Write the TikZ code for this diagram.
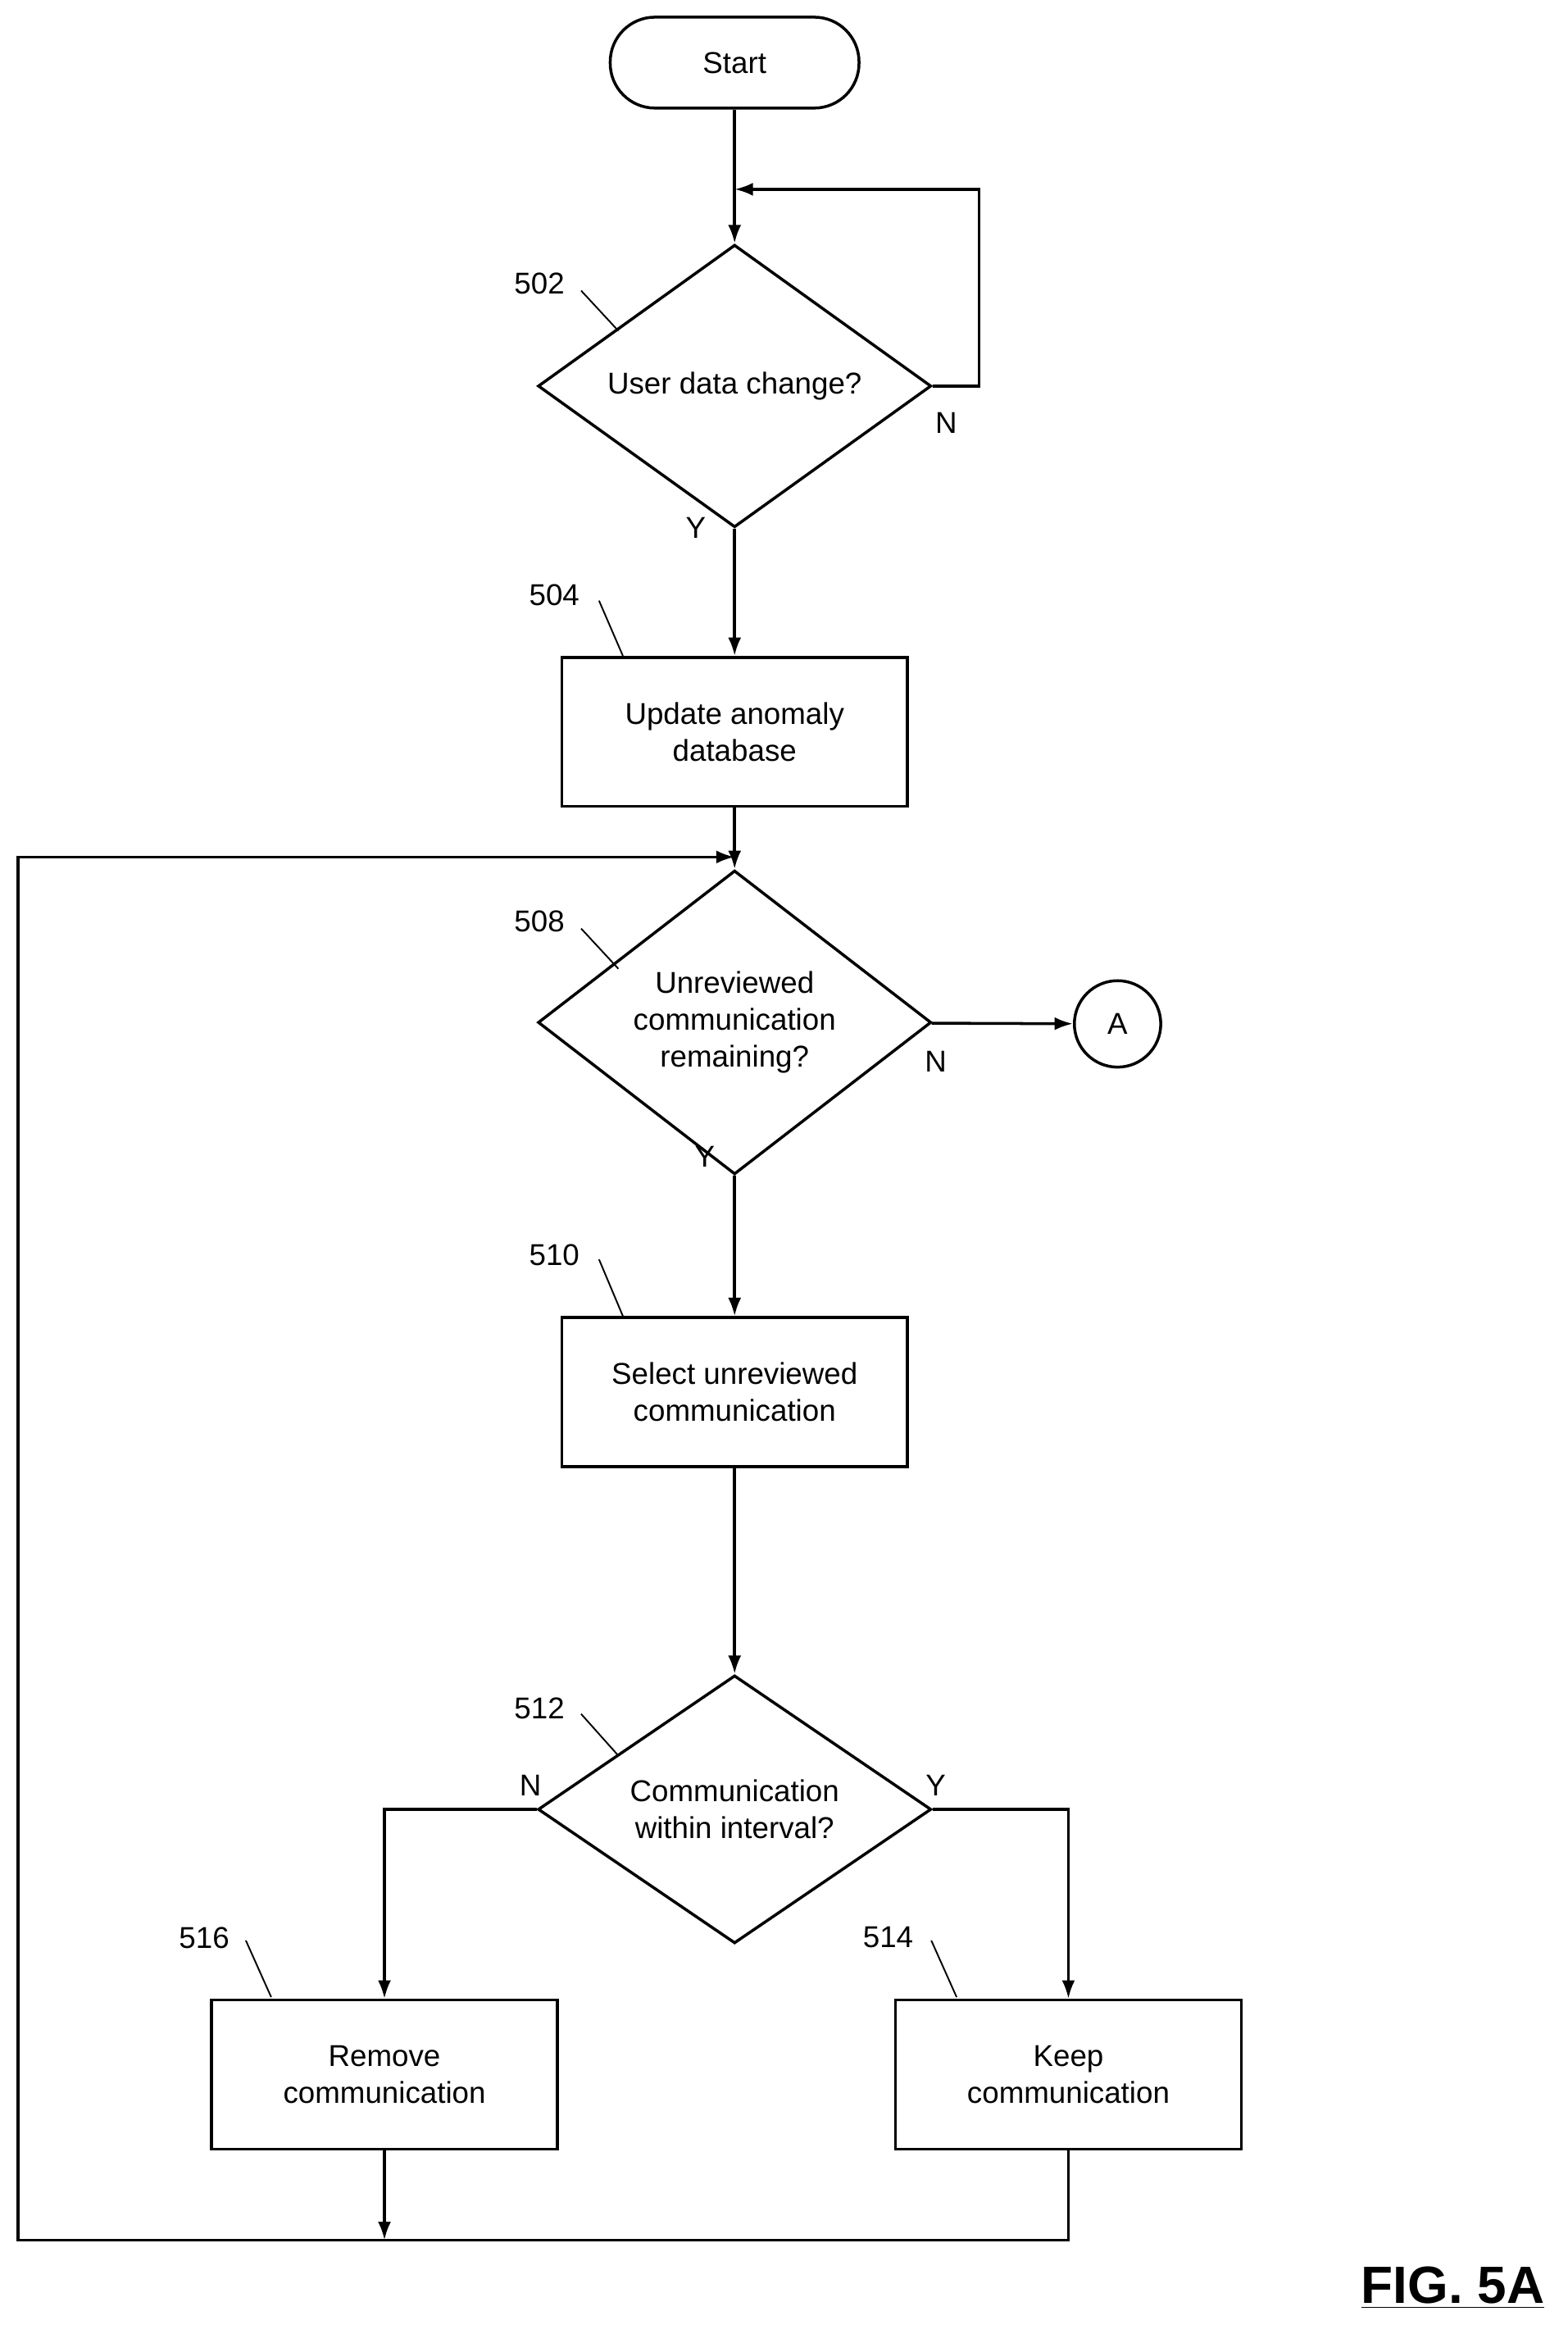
\documentclass[tikz,border=0pt]{standalone}
\usepackage{fontspec}
\setmainfont{Liberation Sans}
\usetikzlibrary{shapes.geometric,arrows.meta}

\begin{document}
\begin{tikzpicture}[x=0.02cm, y=-0.02cm, >={Latex[length=7pt,width=5pt]},
  every node/.style={font=\fontsize{11.5}{14}\selectfont},
  box/.style={rectangle, draw=black, line width=1.1pt, minimum width=4.64cm, minimum height=2cm, align=center},
  test/.style={diamond, draw=black, line width=1.1pt, minimum width=5.28cm, minimum height=3.28cm, inner sep=0pt, align=center},
  flow/.style={line width=1.1pt},
  tag/.style={line width=0.6pt}]
				\useasboundingbox (0,0) rectangle (1052,1560);
				\node[rectangle, rounded corners=0.6cm, draw=black, line width=1.1pt,
				minimum width=3.34cm, minimum height=1.22cm] (start) at(493,42){Start};
				\node[test] (d502) at(493,259){User data change?};
				\node[box] (b504) at(493,491){Update anomaly\\database};
				\node[test] (d508) at(493,686){Unreviewed\\communication\\remaining?};
				\node[circle, draw=black, line width=1.1pt, minimum size=1.16cm, inner sep=0pt] (A) at(750,687){A};
				\node[box] (b510) at(493,934){Select unreviewed\\communication};
				\node[test] (d512) at(493,1214){Communication\\within interval?};
				\node[box] (b516) at(258,1392){Remove\\communication};
				\node[box] (b514) at(717,1392){Keep\\communication};
				\coordinate (top502) at(493,127);
				\coordinate (top508) at(493,575);
				\coordinate (join) at(258,1503);
				% labels
				\node (l502) at(362,190){502};
				\node (l504) at(372,399){504};
				\node (l508) at(362,618){508};
				\node (l510) at(372,842){510};
				\node (l512) at(362,1146){512};
				\node (l516) at(137,1300){516};
				\node (l514) at(596,1300){514};
				\draw[tag] (390,195) -- (415,222);
				\draw[tag] (402,403) -- (418,440);
				\draw[tag] (390,623) -- (415,650);
				\draw[tag] (402,845) -- (418,883);
				\draw[tag] (390,1150) -- (415,1178);
				\draw[tag] (165,1302) -- (182,1340);
				\draw[tag] (625,1302) -- (642,1340);
				\node at(635,284){N};
				\node at(467,354){Y};
				\node at(628,712){N};
				\node at(473,776){Y};
				\node at(356,1198){N};
				\node at(628,1198){Y};
				% connectors
				\draw[flow,->] (start) -- (d502);
				\draw[flow,->] (d502.east) -- (657,259) -- (657,127) -- (top502);
				\draw[flow,->] (d502) -- (b504);
				\draw[flow,->] (b504) -- (d508);
				\draw[flow,->] (d508) -- (A);
				\draw[flow,->] (d508) -- (b510);
				\draw[flow,->] (b510) -- (d512);
				\draw[flow,->] (d512.west) -| (b516.north);
				\draw[flow,->] (d512.east) -| (b514.north);
				\draw[flow,->] (b516) -- (join);
				\draw[flow,->] (b514.south) -- (717,1503) -- (12,1503) -- (12,575) -- (top508);
				\node[font=\fontsize{20}{24}\bfseries\selectfont] (fig) at(975,1535){\underline{FIG. 5A}};
			\end{tikzpicture}
\end{document}
